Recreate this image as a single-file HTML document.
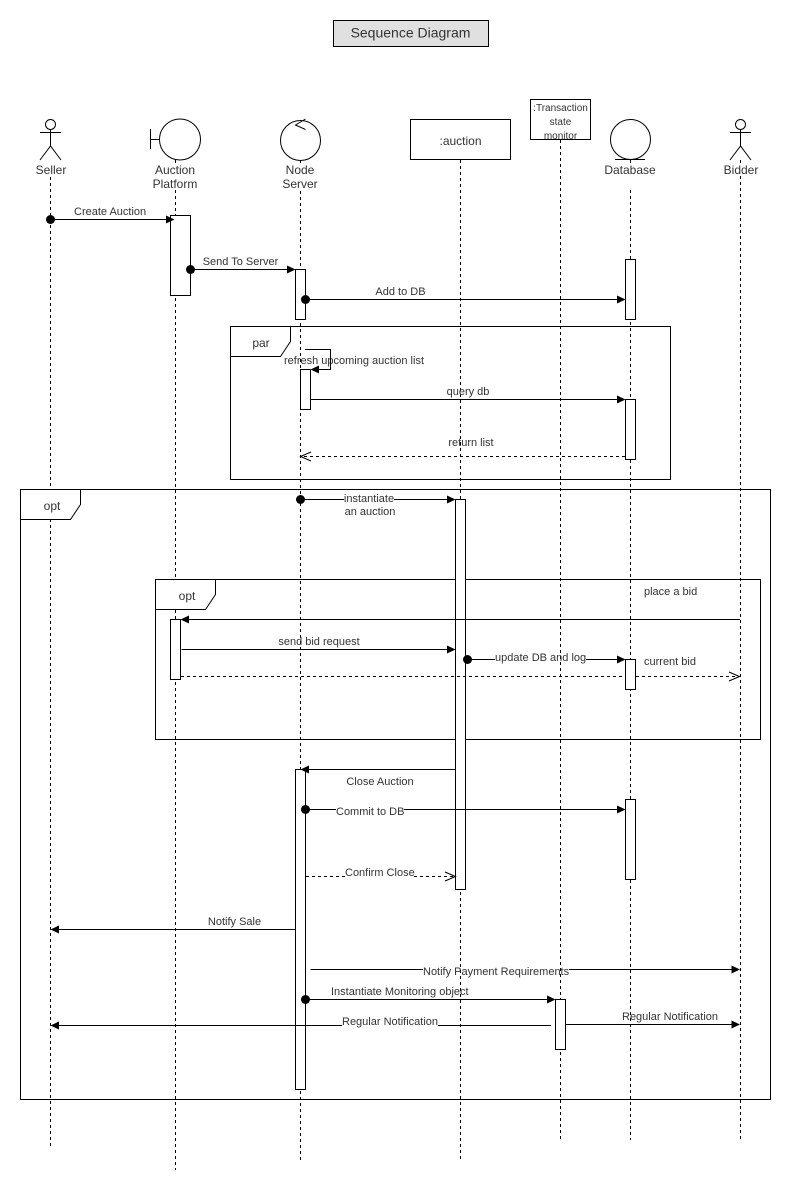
<!DOCTYPE html>
<html>
<head>
<meta charset="utf-8">
<style>
html,body{margin:0;padding:0;background:#fff;width:791px;height:1190px;overflow:hidden}
svg{display:block}
text{font-family:"Liberation Sans",sans-serif;font-size:11px;fill:#333}
.n{font-size:12px;text-anchor:middle}
.m{text-anchor:middle}
.l{stroke:#000;stroke-width:1;fill:none}
.d{stroke:#000;stroke-width:1;fill:none;stroke-dasharray:3 3}
.a{stroke:#000;stroke-width:1;fill:#fff}
.t{stroke:#000;stroke-width:1;fill:#fff}
.f{fill:#000;stroke:none}
.o{stroke:#000;stroke-width:1;fill:none}
</style>
</head>
<body>
<svg width="791" height="1190" viewBox="0 0 791 1190" xmlns="http://www.w3.org/2000/svg">
<!-- title -->
<rect x="333.5" y="20.5" width="155" height="26" fill="#e0e0e0" stroke="#000"/>
<text x="410.5" y="37.5" style="font-size:14px;text-anchor:middle">Sequence Diagram</text>

<!-- lifelines -->
<path d="M50.5 177V1147" class="d"/>
<path d="M175.5 160V163M175.5 190V1170" class="d"/>
<path d="M300.5 160V163M300.5 191V1160" class="d"/>
<path d="M460.5 160V1160" class="d"/>
<path d="M560.5 140V1140" class="d"/>
<path d="M630.5 160V163M630.5 190V1140" class="d"/>
<path d="M740.5 160V163M740.5 176V1140" class="d"/>

<!-- frames -->
<rect x="230.5" y="326.5" width="440" height="153" class="l"/>
<path d="M230.5 326.5H290.5V341.5L280.5 356.5H230.5Z" class="t"/>
<rect x="20.5" y="489.5" width="750" height="610" class="l"/>
<path d="M20.5 489.5H80.5V504.5L70.5 519.5H20.5Z" class="t"/>
<rect x="155.5" y="579.5" width="605" height="160" class="l"/>
<path d="M155.5 579.5H215.5V594.5L205.5 609.5H155.5Z" class="t"/>

<!-- actors -->
<circle cx="50.5" cy="124.5" r="5" class="l"/>
<path d="M50.5 129.5V146M40 132.5H61M40 160L50.5 146L61 160" class="l"/>
<circle cx="740.5" cy="124.5" r="5" class="l"/>
<path d="M740.5 129.5V146M730 132.5H751M730 160L740.5 146L751 160" class="l"/>
<circle cx="180" cy="139.5" r="20.5" class="l"/>
<path d="M150.5 129V149M150.5 139.5H159" class="l"/>
<circle cx="300.5" cy="140.5" r="20" class="l"/>
<path d="M305.5 119L295.5 125L305.5 129.5" class="l"/>
<circle cx="630.5" cy="139.5" r="20" class="l"/>
<path d="M615 159.5H645" class="l"/>

<rect x="410.5" y="119.5" width="100" height="40" fill="#fff" stroke="#000"/>
<text x="460.5" y="145" class="n">:auction</text>
<rect x="530.5" y="99.5" width="60" height="40" fill="#fff" stroke="#000"/>
<text x="560.5" y="111" class="m" style="font-size:10px">:Transaction</text>
<text x="560.5" y="125" class="m" style="font-size:10px">state</text>
<text x="560.5" y="139" class="m" style="font-size:10px">monitor</text>

<text x="51" y="174" class="n">Seller</text>
<text x="175" y="174" class="n">Auction</text>
<text x="175" y="188" class="n">Platform</text>
<text x="300" y="174" class="n">Node</text>
<text x="300" y="188" class="n">Server</text>
<text x="630" y="174" class="n">Database</text>
<text x="741" y="174" class="n">Bidder</text>
<text x="261" y="347" class="n">par</text>
<text x="52" y="510" class="n">opt</text>
<text x="187" y="600" class="n">opt</text>

<!-- activations -->
<rect x="170.5" y="215.5" width="20" height="80" class="a"/>
<rect x="295.5" y="269.5" width="10" height="50" class="a"/>
<rect x="625.5" y="259.5" width="10" height="60" class="a"/>
<rect x="300.5" y="369.5" width="10" height="40" class="a"/>
<rect x="625.5" y="399.5" width="10" height="60" class="a"/>
<rect x="455.5" y="499.5" width="10" height="390" class="a"/>
<rect x="170.5" y="619.5" width="10" height="60" class="a"/>
<rect x="625.5" y="659.5" width="10" height="30" class="a"/>
<rect x="295.5" y="769.5" width="10" height="320" class="a"/>
<rect x="625.5" y="799.5" width="10" height="80" class="a"/>
<rect x="555.5" y="999.5" width="10" height="50" class="a"/>

<!-- messages -->
<path d="M50.5 219.5H170" class="l"/><circle cx="50.5" cy="219.5" r="4.5" class="f"/><path d="M166 215.5L174.5 219.5L166 223.5Z" class="f"/>
<text x="74" y="215">Create Auction</text>

<path d="M190.5 269.5H290" class="l"/><circle cx="190.5" cy="269.5" r="4.5" class="f"/><path d="M287 265.5L295.5 269.5L287 273.5Z" class="f"/>
<text x="240.5" y="265" class="m">Send To Server</text>

<path d="M305.5 299.5H620" class="l"/><circle cx="305.5" cy="299.5" r="4.5" class="f"/><path d="M617 295.5L625.5 299.5L617 303.5Z" class="f"/>
<text x="400.5" y="295" class="m">Add to DB</text>

<path d="M305 349.5H330.5V369.5H316" class="l"/><path d="M319 365.5L310.5 369.5L319 373.5Z" class="f"/>
<text x="354" y="364" class="m">refresh upcoming auction list</text>

<path d="M310.5 399.5H620" class="l"/><path d="M617 395.5L625.5 399.5L617 403.5Z" class="f"/>
<text x="468" y="395" class="m">query db</text>

<path d="M625 456.5H301" class="d"/><path d="M311 452L300.5 456.5L311 461" class="o"/>
<text x="471" y="446" class="m">return list</text>

<path d="M300.5 499.5H344M394 499.5H450" class="l"/><circle cx="300.5" cy="499.5" r="4.5" class="f"/><path d="M447 495.5L455.5 499.5L447 503.5Z" class="f"/>
<text x="369" y="502" class="m">instantiate</text>
<text x="370" y="515" class="m">an auction</text>

<path d="M740 619.5H186" class="l"/><path d="M189 615.5L180.5 619.5L189 623.5Z" class="f"/>
<text x="644" y="595">place a bid</text>

<path d="M181.5 649.5H450" class="l"/><path d="M447 645.5L455.5 649.5L447 653.5Z" class="f"/>
<text x="319" y="645" class="m">send bid request</text>

<path d="M467.5 659.5H495M586 659.5H620" class="l"/><circle cx="467.5" cy="659.5" r="4.5" class="f"/><path d="M617 655.5L625.5 659.5L617 663.5Z" class="f"/>
<text x="495" y="661">update DB and log</text>

<path d="M181 676.5H625M636 676.5H739" class="d"/><path d="M729 672L739.5 676.5L729 681" class="o"/>
<text x="644" y="665">current bid</text>

<path d="M455.5 769.5H306" class="l"/><path d="M309 765.5L300.5 769.5L309 773.5Z" class="f"/>
<text x="380" y="785" class="m">Close Auction</text>

<path d="M305.5 809.5H336M404 809.5H620" class="l"/><circle cx="305.5" cy="809.5" r="4.5" class="f"/><path d="M617 805.5L625.5 809.5L617 813.5Z" class="f"/>
<text x="336" y="815">Commit to DB</text>

<path d="M306 876.5H345M414 876.5H454" class="d"/><path d="M445 872L455.5 876.5L445 881" class="o"/>
<text x="345" y="876">Confirm Close</text>

<path d="M295.5 929.5H56" class="l"/><path d="M59 925.5L50.5 929.5L59 933.5Z" class="f"/>
<text x="234.5" y="925" class="m">Notify Sale</text>

<path d="M310.5 969.5H423M569 969.5H735" class="l"/><path d="M731.5 965.5L740 969.5L731.5 973.5Z" class="f"/>
<text x="423" y="975">Notify Payment Requirements</text>

<path d="M305.5 999.5H550" class="l"/><circle cx="305.5" cy="999.5" r="4.5" class="f"/><path d="M547 995.5L555.5 999.5L547 1003.5Z" class="f"/>
<text x="331" y="995">Instantiate Monitoring object</text>

<path d="M551 1025.5H438M342 1025.5H56" class="l"/><path d="M59 1021.5L50.5 1025.5L59 1029.5Z" class="f"/>
<text x="342" y="1025">Regular Notification</text>

<path d="M565.5 1024.5H735" class="l"/><path d="M731.5 1020.5L740 1024.5L731.5 1028.5Z" class="f"/>
<text x="670" y="1020" class="m">Regular Notification</text>
</svg>
</body>
</html>
